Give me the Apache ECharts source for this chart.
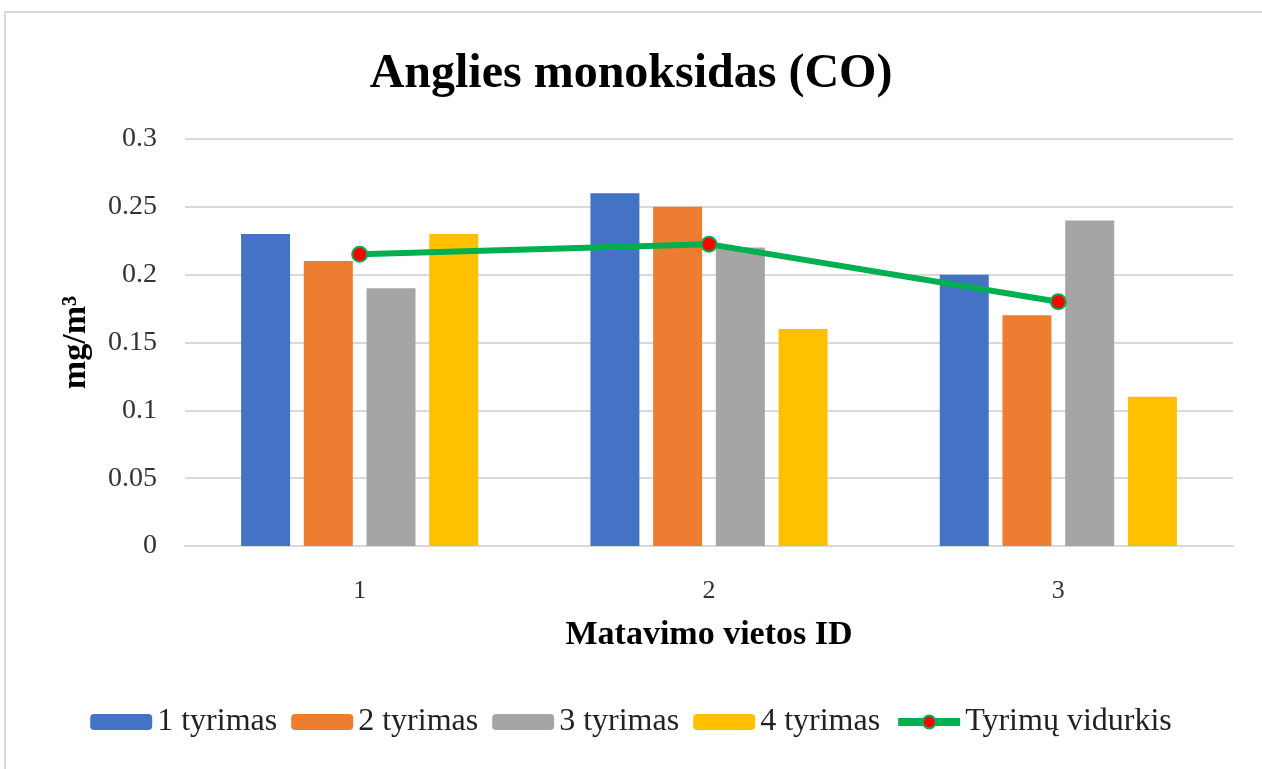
<!DOCTYPE html>
<html>
<head>
<meta charset="utf-8">
<script src="https://cdn.jsdelivr.net/npm/echarts@6/dist/echarts.min.js"></script>
<style>
  html, body { margin: 0; padding: 0; background: #fff; }
  #chart { width: 1262px; height: 769px; }
</style>
</head>
<body>
<div id="chart"></div>
<script>
// duomenys
var categories = ['1', '2', '3'];
var tyrimas1 = [0.23, 0.26, 0.20];
var tyrimas2 = [0.21, 0.25, 0.17];
var tyrimas3 = [0.19, 0.22, 0.24];
var tyrimas4 = [0.23, 0.16, 0.11];
var vidurkis = [0.215, 0.2225, 0.18];
var yTicks = [0, 0.05, 0.1, 0.15, 0.2, 0.25, 0.3];

var serif = '"Liberation Serif", "Times New Roman", serif';
var myChart = echarts.init(document.getElementById('chart'));

function bar(name, data, color) {
  return {
    name: name,
    type: 'bar',
    data: data,
    barWidth: 49,
    barGap: '28%',
    itemStyle: { color: color }
  };
}

myChart.setOption({
  animation: false,
  backgroundColor: '#fff',
  textStyle: { fontFamily: serif },
  graphic: [{
    type: 'rect',
    shape: { x: 5, y: 12, width: 1300, height: 800 },
    style: { fill: 'none', stroke: '#d9d9d9', lineWidth: 2 },
    silent: true
  }],
  title: {
    text: 'Anglies monoksidas (CO)',
    left: 'center',
    top: 46,
    textStyle: { fontFamily: serif, fontSize: 48, fontWeight: 'bold', color: '#000' }
  },
  grid: { left: 185, right: 29, top: 139, bottom: 223 },
  legend: {
    bottom: 26,
    left: 'center',
    itemWidth: 62,
    itemHeight: 16,
    itemGap: 14,
    textStyle: { fontFamily: serif, fontSize: 32, color: '#222' },
    data: ['1 tyrimas', '2 tyrimas', '3 tyrimas', '4 tyrimas',
      { name: 'Tyrimų vidurkis', lineStyle: { width: 8 } }]
  },
  xAxis: {
    type: 'category',
    data: categories,
    name: 'Matavimo vietos ID',
    nameLocation: 'middle',
    nameGap: 72,
    nameTextStyle: { fontFamily: serif, fontSize: 34, fontWeight: 'bold', color: '#000' },
    axisLine: { lineStyle: { color: '#d9d9d9', width: 2 } },
    axisTick: { show: false },
    axisLabel: { fontFamily: serif, fontSize: 26, color: '#333', margin: 32 }
  },
  yAxis: {
    type: 'value',
    min: yTicks[0],
    max: yTicks[yTicks.length - 1],
    interval: 0.05,
    name: 'mg/m³',
    nameLocation: 'middle',
    nameGap: 92,
    nameTextStyle: { fontFamily: serif, fontSize: 34, fontWeight: 'bold', color: '#000' },
    axisLine: { show: false },
    axisTick: { show: false },
    splitLine: { lineStyle: { color: '#d9d9d9', width: 2 } },
    axisLabel: { fontFamily: serif, fontSize: 28, color: '#333', margin: 28 }
  },
  series: [
    bar('1 tyrimas', tyrimas1, '#4472C4'),
    bar('2 tyrimas', tyrimas2, '#ED7D31'),
    bar('3 tyrimas', tyrimas3, '#A5A5A5'),
    bar('4 tyrimas', tyrimas4, '#FFC000'),
    {
      name: 'Tyrimų vidurkis',
      type: 'line',
      data: vidurkis,
      symbol: 'circle',
      symbolSize: 15,
      lineStyle: { color: '#00B050', width: 6 },
      itemStyle: { color: '#FF0000', borderColor: '#00B050', borderWidth: 2 },
      z: 5
    }
  ]
});
</script>
</body>
</html>
